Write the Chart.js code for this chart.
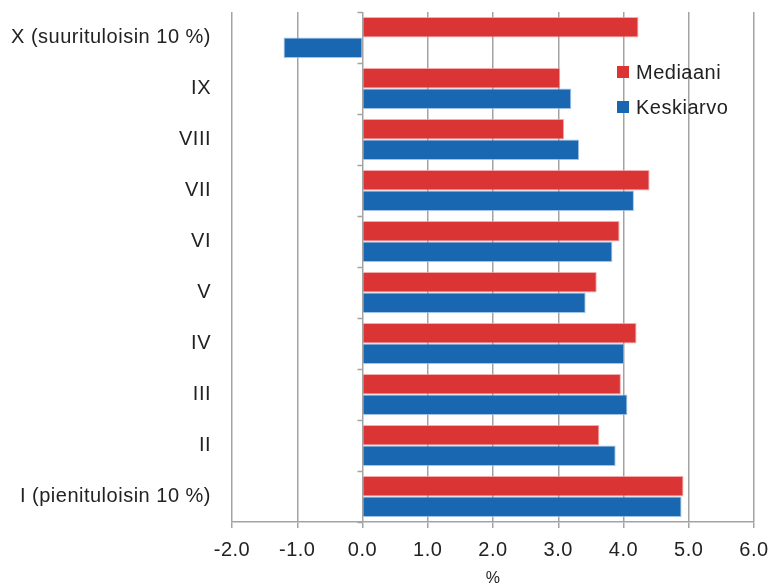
<!DOCTYPE html>
<html>
<head>
<meta charset="utf-8">
<script src="https://cdn.jsdelivr.net/npm/chart.js@4"></script>
<style>
  html, body { margin: 0; padding: 0; background: #fff; }
  #wrap { width: 769px; height: 588px; }
</style>
</head>
<body>
<div id="wrap"><canvas id="chart"></canvas></div>
<script>
// tuloryhmät ylhäältä alas
const categories = ["X (suurituloisin 10 %)", "IX", "VIII", "VII", "VI", "V", "IV", "III", "II", "I (pienituloisin 10 %)"];
const mediaani = [4.23, 3.03, 3.09, 4.40, 3.94, 3.59, 4.20, 3.96, 3.63, 4.92];
const keskiarvo = [-1.21, 3.20, 3.32, 4.16, 3.83, 3.42, 4.01, 4.06, 3.88, 4.89];
const seriesNames = ["Mediaani", "Keskiarvo"];
const xTicks = [-2, -1, 0, 1, 2, 3, 4, 5, 6];

const RED = "#db3434";
const BLUE = "#1a67b1";
const GRID = "#a3a3a3";
const TEXT = "#222222";
const FONT = "'Liberation Sans', Arial, sans-serif";

// pienet väliviivat nollakohdan akselille + selite kaavion sisällä
const extras = {
  id: "extras",
  beforeDraw(chart) {
    // alkuperäisessä teksti on hieman harvempaa
    chart.ctx.letterSpacing = "0.5px";
  },
  afterDraw(chart) {
    const ctx = chart.ctx;
    const x = chart.scales.x;
    const y = chart.scales.y;
    const x0 = x.getPixelForValue(0);
    const band = (y.bottom - y.top) / categories.length;

    ctx.save();
    ctx.strokeStyle = GRID;
    ctx.lineWidth = 1.5;
    for (let i = 0; i <= categories.length; i++) {
      const py = Math.round(y.top + i * band) + 0.5;
      ctx.beginPath();
      ctx.moveTo(x0 - 5, py);
      ctx.lineTo(x0, py);
      ctx.stroke();
    }

    // selite
    const colors = [RED, BLUE];
    ctx.font = "20px " + FONT;
    ctx.textBaseline = "middle";
    ctx.textAlign = "left";
    seriesNames.forEach((name, i) => {
      const cy = 72 + i * 35;
      ctx.fillStyle = colors[i];
      ctx.fillRect(617, cy - 6, 12, 12);
      ctx.fillStyle = TEXT;
      ctx.fillText(name, 636, cy + 1);
    });
    ctx.restore();
  }
};

new Chart(document.getElementById("chart"), {
  type: "bar",
  data: {
    labels: categories,
    datasets: [
      {
        label: seriesNames[0],
        data: mediaani,
        backgroundColor: RED,
        borderColor: "rgba(240,150,150,0.8)",
        borderWidth: 1,
        categoryPercentage: 0.8,
        barPercentage: 1.0
      },
      {
        label: seriesNames[1],
        data: keskiarvo,
        backgroundColor: BLUE,
        borderColor: "rgba(140,180,225,0.8)",
        borderWidth: 1,
        categoryPercentage: 0.8,
        barPercentage: 1.0
      }
    ]
  },
  options: {
    indexAxis: "y",
    responsive: true,
    maintainAspectRatio: false,
    animation: false,
    layout: { padding: { top: 12, right: 15, left: 0, bottom: 0 } },
    plugins: {
      legend: { display: false },
      tooltip: { enabled: false }
    },
    scales: {
      x: {
        min: -2,
        max: 6,
        afterBuildTicks: (scale) => { scale.ticks = xTicks.map(v => ({ value: v })); },
        afterFit: (scale) => {
          scale.height = 66;
          scale.paddingLeft = 0;
          scale.paddingRight = 0;
        },
        grid: { color: GRID, lineWidth: 1.5, tickLength: 6, tickColor: GRID },
        border: { display: true, color: GRID, width: 1.5 },
        ticks: {
          color: TEXT,
          padding: 10,
          maxRotation: 0,
          font: { family: FONT, size: 20 },
          callback: (v) => Number(v).toFixed(1)
        },
        title: {
          display: true,
          text: "%",
          color: TEXT,
          font: { family: FONT, size: 16 },
          padding: { top: 0, bottom: 0 }
        }
      },
      y: {
        afterFit: (scale) => {
          scale.width = 232;
          scale.paddingTop = 0;
          scale.paddingBottom = 0;
        },
        grid: { display: false, drawTicks: false },
        border: { display: false },
        ticks: {
          color: TEXT,
          padding: 21,
          font: { family: FONT, size: 20 }
        }
      }
    }
  },
  plugins: [extras]
});
</script>
</body>
</html>
